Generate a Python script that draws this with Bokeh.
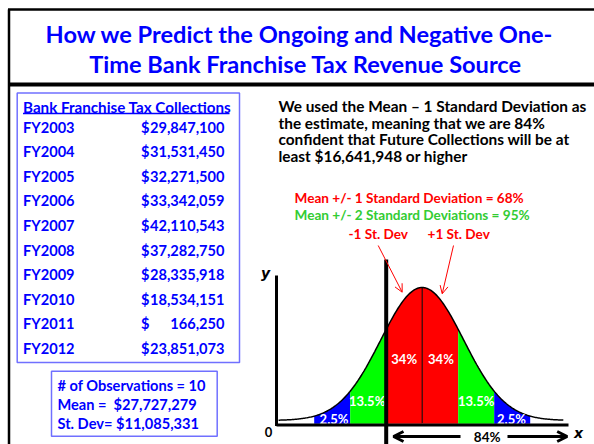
import numpy as np
from bokeh.plotting import figure
from bokeh.models import Range1d, ColumnDataSource, Arrow, OpenHead
from bokeh.core.properties import value
from bokeh.embed import file_html
from bokeh.resources import INLINE

# ---------------- data ----------------
years = ["FY2003", "FY2004", "FY2005", "FY2006", "FY2007",
         "FY2008", "FY2009", "FY2010", "FY2011", "FY2012"]
collections = [29847100, 31531450, 32271500, 33342059, 42110543,
               37282750, 28335918, 18534151, 166250, 23851073]
n_obs = len(collections)
mean_val = 27727279
sd_val = 11085331
estimate = mean_val - sd_val            # 16,641,948
band_sigmas = [-3, -2, -1, 0, 1, 2, 3]
band_labels = ["2.5%", "13.5%", "34%", "34%", "13.5%", "2.5%"]
band_colors = ["#0000ff", "#00ff00", "#ff0000", "#ff0000", "#00ff00", "#0000ff"]

FONT = value("Lato")
BLUE = "#0000ff"
BOXC = "#7070ff"

# ---------------- figure (page-pixel layout coordinates) ----------------
W, H = 594, 444
p = figure(width=W, height=H, x_range=Range1d(0, W), y_range=Range1d(H, 0),
           output_backend="svg", toolbar_location=None, min_border=0,
           x_axis_location=None, y_axis_location=None)
p.grid.visible = False
p.outline_line_color = None
p.background_fill_color = "white"
p.border_fill_color = "white"

# bell-curve scales: dollars on x, relative density on y
MEAN_PX, SIG_PX = 421.7, 36.0
BASE_PX, AMP_PX = 420.0, 133.0
p.extra_x_ranges = {"usd": Range1d(start=mean_val - MEAN_PX / SIG_PX * sd_val,
                                   end=mean_val + (W - MEAN_PX) / SIG_PX * sd_val)}
p.extra_y_ranges = {"dens": Range1d(start=-(H - BASE_PX) / AMP_PX,
                                    end=BASE_PX / AMP_PX)}

# ---------------- title box ----------------
p.segment(x0=[7.5, 8.5], y0=[9, 9], x1=[W, 8.5], y1=[9, H],
          line_color="black", line_width=2.5)
p.segment(x0=[7.5], y0=[84], x1=[W], y1=[84], line_color="black", line_width=4)
p.text(x=[299, 305], y=[33.5, 63.5],
       text=["How we Predict the Ongoing and Negative One-",
             "Time Bank Franchise Tax Revenue Source"],
       text_font=FONT, text_font_style="bold", text_font_size="23.6px",
       text_color=BLUE, text_align="center", text_baseline="middle")

# ---------------- collections table ----------------
p.quad(left=[16.7], right=[239], top=[92.5], bottom=[362], fill_color=None,
       line_color=BOXC, line_width=1.5)
p.text(x=[22.5], y=[106], text=["Bank Franchise Tax Collections"],
       text_font=FONT, text_font_style="bold", text_font_size="15.2px",
       text_color=BLUE, text_align="left", text_baseline="middle")
p.segment(x0=[22.5], y0=[113], x1=[229], y1=[113], line_color=BLUE, line_width=1.3)

row_y = [126.5 + 24.6 * i for i in range(len(years))]
src = ColumnDataSource(dict(y=row_y, year=years,
                            dollar=["$"] * len(years),
                            amount=[f"{v:,}" for v in collections]))
common = dict(text_font=FONT, text_font_style="bold", text_font_size="14.6px",
              text_color=BLUE, text_baseline="middle")
p.text(x=22.5, y="y", text="year", source=src, text_align="left", **common)
p.text(x=140.5, y="y", text="dollar", source=src, text_align="left", **common)
p.text(x=224, y="y", text="amount", source=src, text_align="right", **common)

# ---------------- stats box ----------------
p.quad(left=[51], right=[216.7], top=[370.7], bottom=[435.7], fill_color=None,
       line_color=BOXC, line_width=1.5)
p.text(x=[57, 57, 57], y=[385, 404, 422.5],
       text=[f"# of Observations = {n_obs}",
             f"Mean =\u00a0 ${mean_val:,}",
             f"St. Dev= ${sd_val:,}"], **common, text_align="left")

# ---------------- explanation ----------------
p.text(x=[278] * 4, y=[105.5, 122.2, 138.9, 155.6],
       text=["We used the Mean \u2013 1 Standard Deviation as",
             "the estimate, meaning that we are 84%",
             "confident that Future Collections will be at",
             f"least ${estimate:,} or higher"],
       text_font=FONT, text_font_style="bold", text_font_size="15.4px",
       text_color="black", text_align="left", text_baseline="middle")

p.text(x=[294], y=[197], text=["Mean +/- 1 Standard Deviation = 68%"],
       text_font=FONT, text_font_style="bold", text_font_size="13.6px",
       text_color="#ff0000", text_align="left", text_baseline="middle")
p.text(x=[294], y=[214], text=["Mean +/- 2 Standard Deviations = 95%"],
       text_font=FONT, text_font_style="bold", text_font_size="13.6px",
       text_color="#33cc33", text_align="left", text_baseline="middle")
p.text(x=[348, 427], y=[233.5, 233], text=["-1 St. Dev", "+1 St. Dev"],
       text_font=FONT, text_font_style="bold", text_font_size="13.6px",
       text_color="#ff0000", text_align="left", text_baseline="middle")

# ---------------- bell curve ----------------
CURVE_W = 1.15


def bell(z):
    return np.exp(-z ** 2 / (2 * CURVE_W ** 2))


for i in range(len(band_labels)):
    z = np.linspace(band_sigmas[i], band_sigmas[i + 1], 60)
    p.varea(x=mean_val + z * sd_val, y1=-0.025, y2=bell(z),
            fill_color=band_colors[i], x_range_name="usd", y_range_name="dens")

zc = np.linspace(-3.99, 3.92, 300)
p.line(x=mean_val + zc * sd_val, y=bell(zc), line_color="black", line_width=1.5,
       x_range_name="usd", y_range_name="dens")
p.segment(x0=[mean_val], y0=[-0.02], x1=[mean_val], y1=[1.0], line_color="black",
          line_width=1, x_range_name="usd", y_range_name="dens")

# region labels
lab_z = [-2.45, -1.53, -0.5, 0.52, 1.5, 2.48]
lab_d = [0.01, 0.145, 0.46, 0.46, 0.145, 0.01]
p.text(x=[mean_val + z * sd_val for z in lab_z], y=lab_d, text=band_labels,
       text_font=FONT, text_font_style="bold", text_font_size="13px",
       text_color="white", text_align="center", text_baseline="middle",
       x_range_name="usd", y_range_name="dens")

# axes of the diagram
p.segment(x0=[276, 276], y0=[275, 424.5], x1=[276, 568], y1=[425.5, 424.5],
          line_color="black", line_width=3)
p.segment(x0=[mean_val - sd_val], y0=[(BASE_PX - 259) / AMP_PX],
          x1=[mean_val - sd_val], y1=[-(H - BASE_PX) / AMP_PX],
          line_color="black", line_width=4, x_range_name="usd", y_range_name="dens")
p.text(x=[265], y=[272], text=["y"], text_font=value("DejaVu Sans"),
       text_font_style="bold italic", text_font_size="14px", text_color="black",
       text_align="center", text_baseline="middle")
p.text(x=[578], y=[432], text=["x"], text_font=value("DejaVu Sans"),
       text_font_style="bold italic", text_font_size="14px", text_color="black",
       text_align="center", text_baseline="middle")
p.text(x=[268], y=[431], text=["0"], text_font=FONT, text_font_style="bold",
       text_font_size="13px", text_color="black", text_align="center",
       text_baseline="middle")

# pointer arrows
for xs, ys, xe, ye in [(377.7, 245, 401.7, 291.7), (453, 245, 441.7, 293.3)]:
    p.add_layout(Arrow(end=OpenHead(size=8, line_color="#ff0000", line_width=1),
                       x_start=xs, y_start=ys, x_end=xe, y_end=ye,
                       line_color="#ff0000", line_width=1))

# 84% span arrows
for xs, xe in [(460, 393), (507, 566.7)]:
    p.add_layout(Arrow(end=OpenHead(size=10, line_color="black", line_width=3),
                       x_start=xs, y_start=436, x_end=xe, y_end=436,
                       line_color="black", line_width=3))
p.text(x=[486.7], y=[436.5], text=["84%"], text_font=FONT, text_font_style="bold",
       text_font_size="13.5px", text_color="black", text_align="center",
       text_baseline="middle")

open("out.html", "w").write(file_html(p, INLINE))
